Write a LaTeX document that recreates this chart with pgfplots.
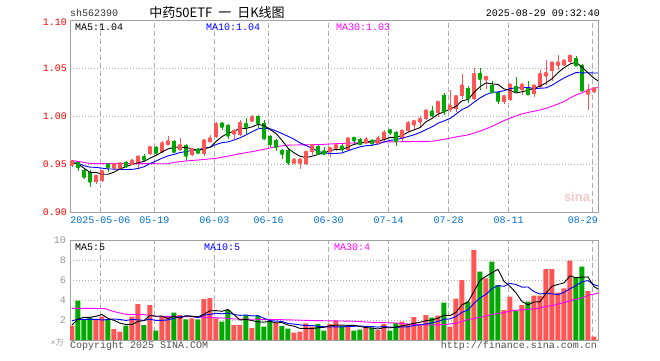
\documentclass[border=0pt]{standalone}
\usepackage{pgfplots}
\pgfplotsset{compat=1.18}
\usepackage{pgfplotstable}
\usepackage{fontspec}
\setmainfont{Liberation Mono}
\newfontfamily\cjk{Noto Sans CJK SC}
\newfontfamily\sansb{Liberation Sans}
\definecolor{kred}{RGB}{255,85,85}
\definecolor{kgreen}{RGB}{0,168,0}
\definecolor{mablue}{RGB}{0,0,255}
\definecolor{mamag}{RGB}{255,0,255}
\definecolor{bord}{RGB}{160,160,160}
\definecolor{gridc}{RGB}{175,175,175}
\definecolor{lblue}{RGB}{0,112,210}
\definecolor{vgray}{RGB}{150,150,150}
\definecolor{tgray}{RGB}{50,50,50}
\definecolor{cgray}{RGB}{80,80,80}
\definecolor{wm}{RGB}{245,200,200}

\pgfplotstableread{
i o h l c
0 0.949 0.953 0.947 0.952
4 0.932 0.938 0.930 0.937
5 0.933 0.943 0.932 0.942
7 0.946 0.950 0.944 0.949
8 0.945 0.951 0.944 0.950
10 0.950 0.955 0.949 0.953
11 0.951 0.957 0.946 0.957
13 0.961 0.968 0.960 0.967
15 0.963 0.974 0.962 0.971
16 0.971 0.979 0.970 0.973
18 0.965 0.977 0.964 0.969
20 0.960 0.966 0.959 0.965
22 0.961 0.975 0.959 0.974
23 0.974 0.981 0.973 0.976
24 0.978 0.994 0.977 0.991
27 0.982 0.986 0.976 0.984
28 0.981 0.996 0.980 0.992
30 0.995 1.001 0.994 0.998
37 0.951 0.955 0.950 0.954
38 0.951 0.956 0.945 0.954
39 0.950 0.963 0.949 0.962
40 0.963 0.970 0.960 0.969
43 0.963 0.967 0.958 0.966
44 0.967 0.971 0.964 0.969
46 0.965 0.977 0.964 0.976
49 0.972 0.978 0.971 0.975
51 0.971 0.979 0.970 0.976
52 0.975 0.986 0.974 0.982
55 0.976 0.985 0.974 0.984
56 0.985 0.995 0.984 0.992
57 0.991 0.996 0.986 0.994
58 0.995 1.000 0.988 0.996
59 0.997 1.006 0.996 1.005
61 1.003 1.015 0.999 1.014
63 1.007 1.027 1.004 1.010
64 1.008 1.021 1.004 1.020
65 1.021 1.044 1.018 1.031
67 1.018 1.050 1.017 1.043
69 1.039 1.042 1.028 1.040
72 1.015 1.022 1.013 1.020
73 1.017 1.033 1.016 1.032
75 1.027 1.034 1.022 1.032
77 1.023 1.033 1.020 1.031
78 1.031 1.048 1.030 1.043
79 1.043 1.059 1.033 1.044
80 1.047 1.056 1.037 1.055
81 1.054 1.064 1.048 1.055
82 1.053 1.058 1.052 1.057
83 1.057 1.063 1.055 1.062
86 1.023 1.034 1.007 1.026
87 1.026 1.029 1.024 1.028
}\upK

\pgfplotstableread{
i o h l c
1 0.952 0.953 0.943 0.948
2 0.944 0.946 0.935 0.938
3 0.942 0.944 0.926 0.933
6 0.950 0.951 0.942 0.948
9 0.952 0.953 0.946 0.949
12 0.957 0.961 0.953 0.956
14 0.968 0.969 0.960 0.963
17 0.974 0.975 0.962 0.964
19 0.970 0.971 0.953 0.960
21 0.966 0.967 0.962 0.963
25 0.993 0.994 0.986 0.990
26 0.991 0.992 0.976 0.981
29 0.992 0.998 0.982 0.990
31 1.000 1.001 0.988 0.994
32 0.993 0.996 0.975 0.978
33 0.980 0.981 0.968 0.972
34 0.975 0.976 0.964 0.969
35 0.964 0.966 0.956 0.962
36 0.965 0.966 0.949 0.953
41 0.969 0.970 0.961 0.962
42 0.963 0.968 0.960 0.962
45 0.968 0.971 0.963 0.967
47 0.977 0.977 0.970 0.976
48 0.976 0.977 0.971 0.972
50 0.974 0.976 0.969 0.973
53 0.985 0.986 0.981 0.984
54 0.984 0.985 0.969 0.975
60 1.006 1.011 0.999 1.002
62 1.022 1.024 1.001 1.006
66 1.030 1.032 1.014 1.020
68 1.045 1.050 1.027 1.040
70 1.033 1.037 1.024 1.026
71 1.025 1.026 1.013 1.017
74 1.032 1.041 1.025 1.027
76 1.029 1.037 1.022 1.024
84 1.061 1.063 1.053 1.054
85 1.053 1.055 1.026 1.028
}\downK

\pgfplotstableread{
i v
0 1.43
4 2.1
5 2.33
7 1.1
8 0.83
10 2.33
11 3.6
13 3.5
15 2.4
16 2.4
18 2.5
20 2.17
22 4.1
23 4.2
24 2.17
27 1.5
28 1.5
30 1.2
34 1.7
37 0.73
38 0.83
39 1.67
40 1.33
43 1.6
44 1.93
46 1.5
49 1.33
51 1.0
52 1.6
55 1.83
56 1.57
57 2.3
58 1.47
59 2.5
61 2.43
63 1.33
64 4.13
65 6.0
67 9.0
69 6.17
72 3.0
73 4.33
75 3.5
77 4.43
78 4.43
79 7.1
80 7.1
81 4.73
82 5.17
83 7.93
86 4.9
87 0.33
}\upV

\pgfplotstableread{
i v
1 3.93
2 2.1
3 2.27
6 2.07
9 1.43
12 1.5
14 0.93
17 2.73
19 2.07
21 2.07
25 1.83
26 3.0
29 2.5
31 2.4
32 1.33
33 1.93
35 1.4
36 1.13
41 1.6
42 0.93
45 1.4
47 0.93
48 1.03
50 1.23
53 0.93
54 1.7
60 2.23
62 3.73
66 3.83
68 6.83
70 7.83
71 5.5
74 2.93
76 3.83
84 6.23
85 7.33
}\downV

\pgfplotsset{
  base/.style={
    scale only axis, width=528pt, anchor=north west,
    xmin=-0.33, xmax=87.67,
    xtick={4.72,13.72,23.72,32.72,42.72,52.72,62.72,72.72,86.72},
    xticklabels={}, yticklabels={},
    tick style={draw=none},
    xmajorgrids, ymajorgrids,
    x grid style={draw=gridc, line width=0.7pt, dash pattern=on 5pt off 3pt},
    y grid style={draw=gridc, line width=0.7pt, dash pattern=on 1pt off 2pt},
    axis line style={draw=bord, line width=0.9pt},
  },
  wick/.style={color=#1, only marks, mark=none, forget plot,
    error bars/.cd, y dir=both, y explicit, error mark=none,
    error bar style={line width=0.9pt, color=#1, solid}},
  body/.style={color=#1, only marks, mark=none, forget plot,
    error bars/.cd, y dir=both, y explicit, error mark=none,
    error bar style={line width=4.6pt, color=#1, solid}},
}

\begin{document}
\begin{tikzpicture}
\fill[white] (0pt,0pt) rectangle (660pt,-360pt);
\useasboundingbox (0pt,0pt) rectangle (660pt,-360pt);

\begin{axis}[base, at={(70pt,-20.3pt)}, height=192pt,
  ymin=0.9, ymax=1.1, ytick={0.95,1.00,1.05}]
\addplot[wick=kred] table[x=i, y=c, y error plus expr=\thisrow{h}-\thisrow{c}, y error minus expr=\thisrow{c}-\thisrow{l}] {\upK};
\addplot[wick=kgreen] table[x=i, y=c, y error plus expr=\thisrow{h}-\thisrow{c}, y error minus expr=\thisrow{c}-\thisrow{l}] {\downK};
\addplot[body=kred] table[x=i, y expr=(\thisrow{o}+\thisrow{c})/2, y error expr=abs(\thisrow{c}-\thisrow{o})/2] {\upK};
\addplot[body=kgreen] table[x=i, y expr=(\thisrow{o}+\thisrow{c})/2, y error expr=abs(\thisrow{c}-\thisrow{o})/2] {\downK};
% MA30
\addplot[mamag, line width=0.9pt, mark=none] coordinates {
(0,0.9540) (2,0.9520) (3,0.9508) (16,0.9506) (17,0.9520) (19,0.9535) (21,0.9545)
(24,0.9562) (26,0.9585) (28,0.9610) (30,0.9632) (32,0.9656) (34,0.9685) (36,0.9700)
(41,0.9705) (44,0.9715) (48,0.9725) (52,0.9733) (60,0.9740) (62,0.9760) (64,0.9785)
(66,0.9806) (68,0.9845) (70,0.9895) (71,0.9925) (72,0.9955) (73,0.9980) (74,1.0005)
(75,1.0025) (76,1.0040) (77,1.0053) (78,1.0066) (79,1.0083) (80,1.0105) (81,1.0128)
(82,1.0153) (83,1.0190) (84,1.0222) (85,1.0245) (86,1.0274) (87,1.0292) (87.67,1.0300)};
% MA10
\addplot[mablue, line width=0.9pt, mark=none] coordinates {
(0,0.9517) (1,0.9510) (2,0.9486) (3,0.9470) (4,0.9468) (5,0.9460) (6,0.9452) (7,0.9450)
(8,0.9448) (9,0.9446) (10,0.9447) (11,0.9456) (12,0.9474) (13,0.9508) (14,0.9534)
(15,0.9563) (16,0.9588) (17,0.9603) (18,0.9622) (19,0.9633) (20,0.9645) (21,0.9651)
(22,0.9669) (23,0.9678) (24,0.9706) (25,0.9725) (26,0.9733) (27,0.9753) (28,0.9776)
(29,0.9806) (30,0.9839) (31,0.9870) (32,0.9874) (33,0.9870) (34,0.9848) (35,0.9820)
(36,0.9792) (37,0.9762) (38,0.9724) (39,0.9696) (40,0.9667) (41,0.9635) (42,0.9619)
(43,0.9613) (44,0.9613) (45,0.9618) (46,0.9641) (47,0.9663) (48,0.9681) (49,0.9694)
(50,0.9698) (51,0.9712) (52,0.9732) (53,0.9750) (54,0.9756) (55,0.9773) (56,0.9789)
(57,0.9807) (58,0.9831) (59,0.9861) (60,0.9890) (61,0.9928) (62,0.9952) (63,0.9978)
(64,1.0023) (65,1.0070) (66,1.0098) (67,1.0147) (68,1.0191) (69,1.0226) (70,1.0250)
(71,1.0253) (72,1.0267) (73,1.0289) (74,1.0296) (75,1.0297) (76,1.0301) (77,1.0289)
(78,1.0292) (79,1.0296) (80,1.0324) (81,1.0362) (82,1.0399) (83,1.0429) (84,1.0456)
(85,1.0452) (86,1.0454) (87,1.0451) (87.67,1.0451)};
% MA5
\addplot[black, line width=0.9pt, mark=none] coordinates {
(0,0.9517) (1,0.9505) (2,0.9460) (3,0.9415) (4,0.9416) (5,0.9396) (6,0.9396) (7,0.9418)
(8,0.9452) (9,0.9476) (10,0.9498) (11,0.9516) (12,0.9530) (13,0.9564) (14,0.9592)
(15,0.9628) (16,0.9660) (17,0.9676) (18,0.9680) (19,0.9674) (20,0.9662) (21,0.9642)
(22,0.9662) (23,0.9676) (24,0.9738) (25,0.9788) (26,0.9824) (27,0.9844) (28,0.9876)
(29,0.9874) (30,0.9890) (31,0.9916) (32,0.9904) (33,0.9864) (34,0.9822) (35,0.9750)
(36,0.9668) (37,0.9620) (38,0.9584) (39,0.9570) (40,0.9584) (41,0.9602) (42,0.9618)
(43,0.9642) (44,0.9656) (45,0.9652) (46,0.9680) (47,0.9708) (48,0.9720) (49,0.9732)
(50,0.9744) (51,0.9744) (52,0.9756) (53,0.9780) (54,0.9780) (55,0.9802) (56,0.9834)
(57,0.9858) (58,0.9882) (59,0.9942) (60,0.9978) (61,1.0022) (62,1.0046) (63,1.0074)
(64,1.0104) (65,1.0162) (66,1.0174) (67,1.0248) (68,1.0308) (69,1.0348) (70,1.0338)
(71,1.0332) (72,1.0286) (73,1.0270) (74,1.0244) (75,1.0256) (76,1.0270) (77,1.0292)
(78,1.0314) (79,1.0348) (80,1.0392) (81,1.0454) (82,1.0506) (83,1.0544) (84,1.0564)
(85,1.0512) (86,1.0454) (87,1.0396) (87.67,1.0370)};
\end{axis}

\begin{axis}[base, at={(70pt,-240pt)}, height=100pt,
  ymin=0, ymax=10, ytick={2,4,6,8}]
\addplot[ybar, bar width=5pt, bar shift=0pt, fill=kred, draw=none, forget plot] table[x=i, y=v] {\upV};
\addplot[ybar, bar width=5pt, bar shift=0pt, fill=kgreen, draw=none, forget plot] table[x=i, y=v] {\downV};
% MA30 vol
\addplot[mamag, line width=0.9pt, mark=none] coordinates {
(0,3.17) (5.5,3.15) (6.5,2.93) (7.3,2.80) (9,2.57) (12,2.53) (14,2.38) (20,2.33)
(23.3,2.25) (26,2.17) (27,2.10) (34,2.05) (37,2.00) (40,1.95) (46.8,1.88) (50,1.77)
(54,1.70) (56.4,1.58) (60,1.50) (62.2,1.55) (64,1.67) (65,1.85) (66,2.05) (67.5,2.20)
(69,2.40) (70.5,2.60) (72,2.75) (73.5,2.95) (75.5,3.05) (77.5,3.15) (79,3.35) (80.5,3.50)
(82,3.75) (83.5,4.00) (85,4.20) (86.2,4.50) (87.67,4.67)};
% MA10 vol
\addplot[mablue, line width=0.9pt, mark=none] coordinates {
(0,1.93) (1,2.07) (2,2.07) (3,2.07) (4,2.07) (5,2.00) (6,2.05) (7,2.10) (8,2.05)
(9,1.96) (10,2.05) (11,2.02) (12,1.96) (13,2.08) (14,1.96) (15,1.97) (16,2.01) (17,2.17)
(18,2.33) (19,2.40) (20,2.38) (21,2.23) (22,2.49) (23,2.56) (24,2.68) (25,2.62) (26,2.69)
(27,2.56) (28,2.46) (29,2.51) (30,2.41) (31,2.44) (32,2.17) (33,1.94) (34,1.89) (35,1.85)
(36,1.66) (37,1.59) (38,1.52) (39,1.43) (40,1.45) (41,1.37) (42,1.33) (43,1.30) (44,1.32)
(45,1.32) (46,1.35) (47,1.37) (48,1.40) (49,1.36) (50,1.35) (51,1.29) (52,1.36) (53,1.29)
(54,1.27) (55,1.31) (56,1.32) (57,1.46) (58,1.50) (59,1.61) (60,1.71) (61,1.86) (62,2.07)
(63,2.11) (64,2.35) (65,2.77) (66,3.00) (67,3.67) (68,4.20) (69,4.57) (70,5.13) (71,5.44)
(72,5.37) (73,5.67) (74,5.55) (75,5.29) (76,5.30) (77,4.84) (78,4.60) (79,4.69) (80,4.62)
(81,4.54) (82,4.76) (83,5.12) (84,5.45) (85,5.83) (86,5.94) (87,5.53) (87.67,5.40)};
% MA5 vol
\addplot[black, line width=0.9pt, mark=none] coordinates {
(0,1.50) (1,2.10) (2,2.27) (3,2.27) (4,2.37) (5,2.55) (6,2.17) (7,1.97) (8,1.69) (9,1.55)
(10,1.55) (11,1.86) (12,1.94) (13,2.47) (14,2.37) (15,2.39) (16,2.15) (17,2.39) (18,2.19)
(19,2.42) (20,2.37) (21,2.31) (22,2.58) (23,2.92) (24,2.94) (25,2.87) (26,3.06) (27,2.54)
(28,2.00) (29,2.07) (30,1.94) (31,1.82) (32,1.79) (33,1.87) (34,1.71) (35,1.75) (36,1.50)
(37,1.38) (38,1.16) (39,1.15) (40,1.14) (41,1.23) (42,1.27) (43,1.43) (44,1.48) (45,1.49)
(46,1.47) (47,1.47) (48,1.36) (49,1.24) (50,1.20) (51,1.10) (52,1.24) (53,1.22) (54,1.29)
(55,1.41) (56,1.53) (57,1.67) (58,1.77) (59,1.93) (60,2.01) (61,2.19) (62,2.47) (63,2.44)
(64,2.77) (65,3.52) (66,3.80) (67,4.86) (68,5.96) (69,6.37) (70,6.73) (71,7.07) (72,5.87)
(73,5.37) (74,4.72) (75,3.85) (76,3.52) (77,3.80) (78,3.82) (79,4.66) (80,5.38) (81,5.56)
(82,5.71) (83,6.41) (84,6.23) (85,6.28) (86,6.31) (87,5.34) (87.67,5.10)};
\end{axis}

\tikzset{lab/.style={inner sep=0pt, font=\fontsize{10pt}{12pt}\selectfont}}
% title row
\node[lab, anchor=base west, text=tgray] at (70pt,-16.5pt) {sh562390};
\node[inner sep=0pt, anchor=base] at (217pt,-17pt) {\cjk\fontsize{13pt}{15pt}\selectfont 中药50ETF\hspace{6pt}一\hspace{6pt}日K线图};
\node[lab, anchor=base east] at (600pt,-16.5pt) {2025-08-29 09:32:40};
% price labels
\node[lab, anchor=base east, text=red] at (67pt,-25.5pt) {1.10};
\node[lab, anchor=base east, text=red] at (67pt,-71.8pt) {1.05};
\node[lab, anchor=base east, text=red] at (67pt,-119.8pt) {1.00};
\node[lab, anchor=base east, text=red] at (67pt,-167.8pt) {0.95};
\node[lab, anchor=base east, text=red] at (67pt,-215.8pt) {0.90};
% MA legends
\node[lab, anchor=base west] at (75pt,-30.5pt) {MA5:1.04};
\node[lab, anchor=base west, text=mablue] at (206pt,-30.5pt) {MA10:1.04};
\node[lab, anchor=base west, text=mamag] at (336pt,-30.5pt) {MA30:1.03};
% date labels
\node[lab, anchor=base, text=lblue] at (100.3pt,-223.5pt) {2025-05-06};
\node[lab, anchor=base, text=lblue] at (154.3pt,-223.5pt) {05-19};
\node[lab, anchor=base, text=lblue] at (214.3pt,-223.5pt) {06-03};
\node[lab, anchor=base, text=lblue] at (268.7pt,-223.5pt) {06-16};
\node[lab, anchor=base, text=lblue] at (328.7pt,-223.5pt) {06-30};
\node[lab, anchor=base, text=lblue] at (388.7pt,-223.5pt) {07-14};
\node[lab, anchor=base, text=lblue] at (448.7pt,-223.5pt) {07-28};
\node[lab, anchor=base, text=lblue] at (508.7pt,-223.5pt) {08-11};
\node[lab, anchor=base east, text=lblue] at (598pt,-223.5pt) {08-29};
% volume labels
\node[lab, anchor=base east, text=vgray] at (66pt,-243.5pt) {10};
\node[lab, anchor=base east, text=vgray] at (66pt,-263.5pt) {8};
\node[lab, anchor=base east, text=vgray] at (66pt,-283.5pt) {6};
\node[lab, anchor=base east, text=vgray] at (66pt,-303.5pt) {4};
\node[lab, anchor=base east, text=vgray] at (66pt,-323.5pt) {2};
\node[inner sep=0pt, anchor=base east, text=vgray] at (64pt,-345pt) {\fontsize{8pt}{9pt}\selectfont ×{\cjk 万}};
\node[lab, anchor=base west] at (75pt,-250pt) {MA5:5};
\node[lab, anchor=base west, text=mablue] at (204pt,-250pt) {MA10:5};
\node[lab, anchor=base west, text=mamag] at (334pt,-250pt) {MA30:4};
% footer
\node[lab, anchor=base west, text=cgray] at (70pt,-348pt) {Copyright 2025 SINA.COM};
\node[lab, anchor=base east, text=cgray] at (597pt,-348pt) {http://finance.sina.com.cn};
% watermark
\node[inner sep=0pt, anchor=base, text=wm] at (577pt,-201pt) {\sansb\bfseries\fontsize{13pt}{14pt}\selectfont sina};
\end{tikzpicture}
\end{document}
